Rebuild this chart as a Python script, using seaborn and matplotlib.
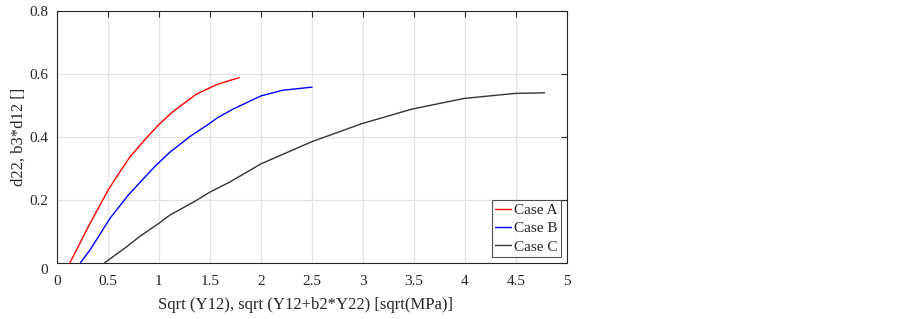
import numpy as np
import pandas as pd
import matplotlib
matplotlib.use('Agg')
import matplotlib.pyplot as plt
import matplotlib.transforms as mtransforms
import seaborn as sns

# ── DATA ─────────────────────────────────────────────────────
a_x = [0.129, 0.324, 0.502, 0.584, 0.714, 0.86, 1.00, 1.137, 1.365, 1.50, 1.576, 1.693, 1.787]
a_y = [0.000, 0.124, 0.230, 0.272, 0.335, 0.390, 0.439, 0.480, 0.535, 0.556, 0.567, 0.579, 0.588]

b_x = [0.233, 0.331, 0.519, 0.698, 0.958, 1.104, 1.30, 1.495, 1.576, 1.726, 2.00, 2.21, 2.502]
b_y = [0.000, 0.043, 0.140, 0.214, 0.305, 0.350, 0.400, 0.442, 0.461, 0.488, 0.530, 0.548, 0.558]

c_x = [0.47, 0.682, 0.807, 1.004, 1.107, 1.368, 1.498, 1.693, 2.00, 2.502, 2.99,
       3.478, 3.99, 4.487, 4.78]
c_y = [0.000, 0.050, 0.082, 0.126, 0.151, 0.198, 0.224, 0.256, 0.314, 0.385, 0.442,
       0.488, 0.522, 0.538, 0.540]

cases = ['Case A', 'Case B', 'Case C']
colors = ['#ff0000', '#0000ff', '#333333']

df = pd.concat([
    pd.DataFrame({'x': a_x, 'y': a_y, 'case': cases[0]}),
    pd.DataFrame({'x': b_x, 'y': b_y, 'case': cases[1]}),
    pd.DataFrame({'x': c_x, 'y': c_y, 'case': cases[2]}),
])

# ── PLOT ─────────────────────────────────────────────────────
sns.set_style('white')
plt.rcParams['font.family'] = ['Liberation Serif', 'DejaVu Serif']

fig = plt.figure(figsize=(9, 3.19), dpi=100)
ax = fig.add_axes([0.0631, 0.1765, 0.5669, 0.7890])

sns.lineplot(data=df, x='x', y='y', hue='case', palette=colors,
             estimator=None, sort=False, linewidth=1.0, ax=ax)

ax.set_xlim(0, 5)
ax.set_ylim(0, 0.8)
ax.set_xticks(np.arange(0, 5.01, 0.5))
ax.set_xticklabels(['0', '0.5', '1', '1.5', '2', '2.5', '3', '3.5', '4', '4.5', '5'])
ax.set_yticks([0, 0.2, 0.4, 0.6, 0.8])
ax.set_yticklabels(['0', '0.2', '0.4', '0.6', '0.8'])
ax.grid(True, color='#e3e3e3', linewidth=0.9)
ax.tick_params(direction='in', length=4, top=True, right=True,
               labelsize=11, color='#262626')
ax.tick_params(axis='x', pad=9)
ax.tick_params(axis='y', pad=6)
for s in ax.spines.values():
    s.set_color('#262626')
    s.set_linewidth(0.8)

# the bottom "0" on the y axis sits a little below the axis line
lab0 = ax.get_yticklabels()[0]
lab0.set_transform(lab0.get_transform() +
                   mtransforms.ScaledTranslation(0, -6 / 100, fig.dpi_scale_trans))

ax.set_xlabel('Sqrt (Y12), sqrt (Y12+b2*Y22) [sqrt(MPa)]', fontsize=12)
ax.xaxis.set_label_coords(0.488, -0.135)
ax.set_ylabel('d22, b3*d12 []', fontsize=12)
ax.yaxis.set_label_coords(-0.06, 0.5)

leg = ax.legend(loc='lower right', fontsize=11, frameon=True, fancybox=False,
                handlelength=1.05, handletextpad=0.2, borderpad=0.2,
                labelspacing=0.3, borderaxespad=0.4)
leg.get_frame().set_edgecolor('#262626')
leg.get_frame().set_linewidth(0.8)

plt.savefig('out.png', dpi=100)
